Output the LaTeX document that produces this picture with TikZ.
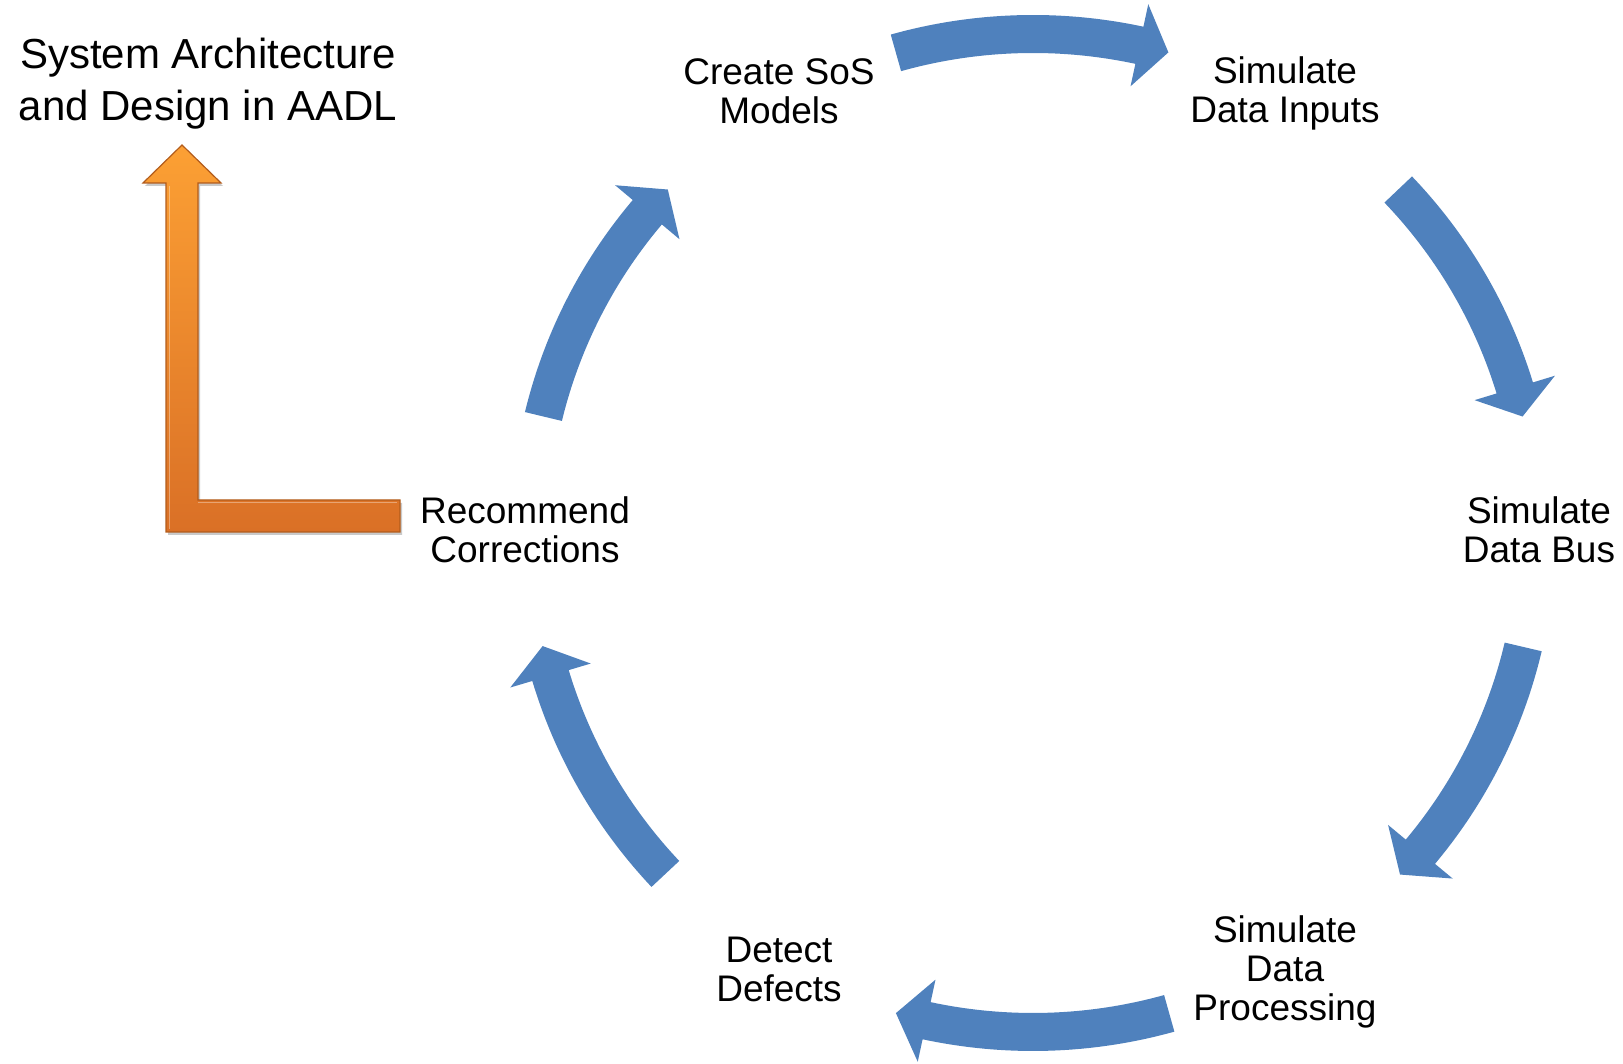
\documentclass[tikz,border=0pt]{standalone}
\usepackage{fontspec}
\setmainfont{Liberation Sans}
\usetikzlibrary{calc,shadows}
\definecolor{arrowblue}{RGB}{79,129,189}
\definecolor{orlight}{RGB}{252,160,52}
\definecolor{ordark}{RGB}{218,112,38}
\definecolor{oredge}{RGB}{178,92,28}
\newcommand\cyclearrow[3]{%
  \fill[arrowblue] (#1:522.5pt and 518pt)
    arc[start angle=#1,end angle=#2,x radius=522.5pt,y radius=518pt]
    -- (#2:545.5pt and 541pt) -- (#3:503.5pt and 499pt)
    -- (#2:461.5pt and 457pt) -- (#2:484.5pt and 480pt)
    arc[start angle=#2,end angle=#1,x radius=484.5pt,y radius=480pt] -- cycle;}
\begin{document}
\begin{tikzpicture}[x=1pt,y=1pt,
  lbl/.style={align=center,inner sep=0pt,font=\fontsize{37}{39}\selectfont},
  titlelbl/.style={align=center,inner sep=0pt,font=\fontsize{42}{52}\selectfont},
  orangearrow/.style={top color=orlight,bottom color=ordark,draw=oredge,line width=1.2pt,line join=miter,
    drop shadow={shadow xshift=2pt,shadow yshift=-3pt,opacity=0.35,fill=black!60}}]
\useasboundingbox (0,0) rectangle (1623,1064);
% labels
\node[titlelbl] (title) at (208,980) {System Architecture\\and Design in AADL};
\node[lbl] (create) at (779,973) {Create SoS\\Models};
\node[lbl] (inputs) at (1285,971) {Simulate\\Data Inputs};
\node[lbl] (bus) at (1539,534) {Simulate\\Data Bus};
\node[lbl] (proc) at (1285,92) {Simulate\\Data\\Processing};
\node[lbl] (detect) at (779,95) {Detect\\Defects};
\node[lbl] (recommend) at (525,534) {Recommend\\Corrections};
% cycle arrows
\coordinate (c) at (1033,531);
\begin{scope}[shift={(c)}]
  \cyclearrow{105.8}{77.8}{74.4}
  \cyclearrow{43.5}{16.9}{13.5}
  \cyclearrow{-13.2}{-39.7}{-43.2}
  \cyclearrow{285.7}{257.8}{254.2}
  \cyclearrow{223.1}{196.6}{193.1}
  \cyclearrow{166.5}{140}{136.5}
\end{scope}
% orange bent arrow
\coordinate (bendtail) at (400,548);
\coordinate (bendtip) at (182,919);
\path[orangearrow] (166,532) -- (400,532) -- (400,564) -- (198,564) -- (198,881)
  -- (221,881) -- (bendtip) -- (143,881) -- (166,881) -- cycle;
\draw[white,opacity=0.35,line width=1pt] (169,535) -- (169,878);
\draw[white,opacity=0.35,line width=1pt] (198,561) -- (397,561);
\end{tikzpicture}
\end{document}
